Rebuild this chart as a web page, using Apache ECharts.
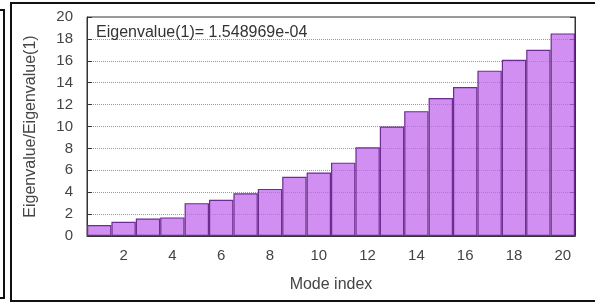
<!DOCTYPE html>
<html>
<head>
<meta charset="utf-8">
<script src="https://cdn.jsdelivr.net/npm/echarts@6/dist/echarts.min.js"></script>
<style>
  html, body { margin: 0; padding: 0; background: #fff; }
  #chart { width: 595px; height: 304px; }
</style>
</head>
<body>
<div id="chart"></div>
<script>
// mode index 1..20 and eigenvalue ratio
var modeIndex = [1, 2, 3, 4, 5, 6, 7, 8, 9, 10, 11, 12, 13, 14, 15, 16, 17, 18, 19, 20]
var ratio = [1.0, 1.3, 1.6, 1.7, 3.0, 3.3, 3.9, 4.3, 5.4, 5.8, 6.7, 8.1, 10.0, 11.4, 12.6, 13.6, 15.1, 16.1, 17.0, 18.5]
var yTicks = [0, 2, 4, 6, 8, 10, 12, 14, 16, 18, 20]
var noteText = 'Eigenvalue(1)= 1.548969e-04'

var font = 'Liberation Sans, Arial, sans-serif'
var chart = echarts.init(document.getElementById('chart'))

var option = {
  animation: false,
  title: {
    text: noteText,
    left: 91,
    top: 20,
    textStyle: { fontFamily: font, fontSize: 16, fontWeight: 'normal', color: '#333' }
  },
  grid: {
    left: 87,
    right: 20,
    top: 17,
    bottom: 68,
    show: true,
    borderColor: '#333',
    borderWidth: 1
  },
  xAxis: {
    type: 'category',
    data: modeIndex,
    name: 'Mode index',
    nameLocation: 'middle',
    nameGap: 41,
    nameTextStyle: { fontFamily: font, fontSize: 16, color: '#444' },
    axisLine: { lineStyle: { color: '#333' } },
    axisTick: { show: false },
    axisLabel: {
      interval: function (i) { return i % 2 === 1 },
      fontFamily: font, fontSize: 15, color: '#444', margin: 12
    }
  },
  yAxis: [{
    type: 'value',
    min: yTicks[0],
    max: yTicks[yTicks.length - 1],
    interval: 2,
    name: 'Eigenvalue/Eigenvalue(1)',
    nameLocation: 'middle',
    nameGap: 48,
    nameTextStyle: { fontFamily: font, fontSize: 16, color: '#444' },
    axisLine: { show: true, lineStyle: { color: '#333' } },
    axisTick: { show: true, inside: true, length: 5, lineStyle: { color: '#333' } },
    axisLabel: { fontFamily: font, fontSize: 15, color: '#444', margin: 14 },
    splitLine: { lineStyle: { color: '#999', type: 'dotted' } }
  }, {
    type: 'value',
    position: 'right',
    min: yTicks[0],
    max: yTicks[yTicks.length - 1],
    interval: 2,
    axisLine: { show: true, lineStyle: { color: '#333' } },
    axisTick: { show: true, inside: true, length: 5, lineStyle: { color: '#333' } },
    axisLabel: { show: false },
    splitLine: { show: false }
  }],
  series: [{
    type: 'bar',
    data: ratio,
    barCategoryGap: 0,
    itemStyle: {
      color: 'rgba(190, 100, 235, 0.72)',
      borderColor: '#6c2c90',
      borderWidth: 1.2
    }
  }],
  graphic: [{
    type: 'rect',
    shape: { x: 11, y: 3, width: 620, height: 298 },
    style: { fill: 'none', stroke: '#111', lineWidth: 2 }
  }, {
    type: 'rect',
    shape: { x: -20, y: 10, width: 24, height: 288 },
    style: { fill: 'none', stroke: '#111', lineWidth: 2 }
  }]
}
chart.setOption(option)
</script>
</body>
</html>
